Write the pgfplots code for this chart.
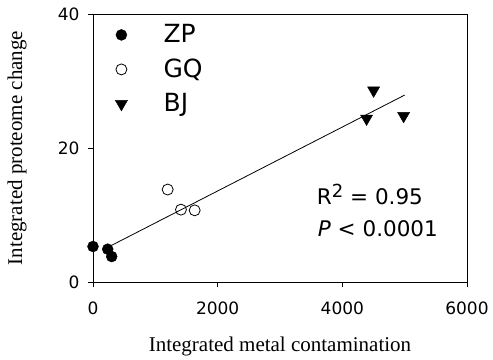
\documentclass[border=0pt]{standalone}
\usepackage{pgfplots}
\pgfplotsset{compat=1.18}
\usepackage{fontspec}
\setmainfont{DejaVu Sans}
\newfontfamily\serif{Liberation Serif}
\begin{document}
\begin{tikzpicture}
\begin{axis}[
  scale only axis, width=374pt, height=268pt,
  xmin=0, xmax=6000, ymin=0, ymax=40,
  xtick={0,2000,4000,6000}, ytick={0,20,40},
  /pgf/number format/assume math mode=true,
  /pgf/number format/1000 sep={},
  tick label style={font=\fontsize{17}{20}\selectfont},
  xticklabel style={yshift=-11pt},
  yticklabel style={xshift=-5pt},
  tick align=outside, xtick pos=bottom, ytick pos=left,
  major tick length=5pt,
  tick style={black, line width=0.9pt},
  axis line style={line width=0.9pt},
  xlabel={Integrated metal contamination},
  ylabel={Integrated proteome change},
  label style={font=\serif\fontsize{21}{24}\selectfont},
  xlabel style={at={(axis description cs:0.5,0)}, anchor=center, yshift=-64pt},
  ylabel style={at={(axis description cs:0,0.5)}, anchor=center, xshift=0pt, yshift=76pt},
  legend image code/.code={\draw[#1] plot coordinates {(0pt,0pt)}; \path (-7pt,0pt) (40pt,0pt);},
  legend style={at={(axis cs:337,38.7)}, anchor=north west, draw=none, fill=none, inner sep=0pt,
    font=\fontsize{25}{28}\selectfont, row sep=10.5pt,
    nodes={text height=18pt, text depth=2pt}, cells={anchor=west}},
  legend cell align=left,
  clip=false,
]
\addplot[only marks, mark=*, mark size=5.5pt, black] coordinates {(0,5.3) (236,4.9) (300,3.8)};
\addlegendentry{ZP}
\addplot[only marks, mark=o, mark size=5.5pt, black, mark options={fill=white, line width=0.8pt}] coordinates {(1198,13.8) (1411,10.8) (1631,10.7)};
\addlegendentry{GQ}
\addplot[only marks, mark=triangle*, mark size=7pt, black, mark options={rotate=180}] coordinates {(4502,28.6) (4389,24.4) (4983,24.8)};
\addlegendentry{BJ}
\addplot[black, line width=0.8pt, forget plot] coordinates {(250,5.24) (5000,27.9)};
\node[anchor=west, align=left, font=\fontsize{21.5}{32}\selectfont] at (axis cs:3536,10.7) {R\raisebox{0.55ex}{\fontsize{18}{20}\selectfont 2} = 0.95\\[0pt] \kern1pt\textit{P} < 0.0001};
\end{axis}
\pgfresetboundingbox
\path ([xshift=-93pt,yshift=-77pt]current axis.south west) rectangle ([xshift=26pt,yshift=14pt]current axis.north east);
\end{tikzpicture}
\end{document}
